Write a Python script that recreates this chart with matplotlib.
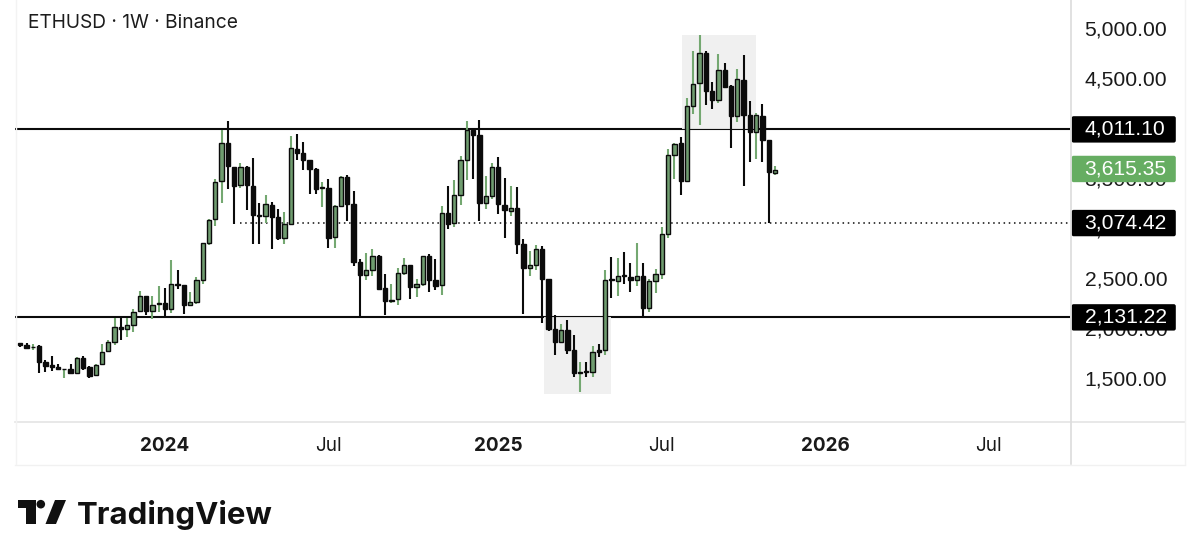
import matplotlib
matplotlib.use("Agg")
import matplotlib.pyplot as plt
from matplotlib.patches import Rectangle, FancyBboxPatch, Polygon, Circle

# ---- data (USD, weekly candles) ----
highs = [1877,1873,1867,1850,1700,1747,1660,1617,1660,1733,1740,1640,1667,1860,1900,2127,2127,2127,2217,2393,
         2347,2340,2440,2427,2707,2607,2457,2383,2533,2877,3110,3517,4007,4090,3633,3673,3640,3723,3273,3353,
         3280,3217,3180,3943,3967,3883,3707,3627,3483,3510,3257,3540,3553,3393,2710,2777,2813,2750,2560,2460,
         2627,2723,2657,2517,2747,2763,2717,3247,3440,3500,3740,4090,4003,4100,3543,3673,3737,3520,3447,3437,
         2917,2793,2850,2840,2517,2150,2067,2100,1950,1683,1683,1847,1867,2607,2733,2727,2783,2673,2877,2673,
         2517,2617,3033,3817,3877,3933,4327,4790,4957,4797,4483,4767,4673,4450,4617,4757,4290,4177,4263,3907,3643]
body_tops = [1877,1857,1837,1840,1680,1650,1633,1617,1617,1727,1727,1630,1657,1787,1887,2037,2037,2053,2187,2343,
             2343,2253,2273,2277,2460,2467,2453,2280,2500,2873,3107,3480,3873,3873,3633,3637,3637,3447,3153,3260,
             3257,3133,3067,3823,3817,3777,3700,3617,3433,3427,3240,3530,3530,3263,2687,2603,2747,2747,2427,2307,
             2573,2653,2653,2463,2740,2743,2500,3177,3177,3353,3703,4000,4000,3957,3343,3630,3633,3257,3227,3223,
             2860,2653,2813,2817,2513,2017,2000,2000,1807,1583,1597,1783,1803,2503,2513,2543,2550,2533,2543,2543,
             2493,2563,2960,3750,3867,3870,4247,4467,4770,4770,4390,4600,4600,4443,4513,4507,4150,4150,4147,3903,3607]
body_bottoms = [1850,1820,1830,1680,1647,1630,1613,1610,1577,1570,1623,1547,1553,1660,1790,1883,2010,2010,2057,2190,
                2190,2193,2263,2213,2213,2457,2253,2253,2280,2500,2877,3110,3490,3640,3447,3450,3450,3153,3143,3143,
                3133,2923,2923,3067,3773,3700,3613,3413,3423,2923,2930,3240,3263,2680,2550,2550,2607,2417,2290,2297,
                2310,2573,2433,2433,2463,2500,2447,2450,3067,3070,3357,3707,3957,3277,3277,3347,3260,3207,3197,2860,
                2623,2623,2653,2513,2013,1880,1880,1800,1570,1573,1583,1583,1787,1807,2500,2497,2540,2500,2507,2223,
                2220,2497,2567,2967,3750,3493,3497,4243,4473,4393,4303,4303,4437,4143,4143,4157,3983,3980,3903,3583,3577]
lows = [1833,1813,1800,1573,1587,1593,1600,1527,1567,1567,1607,1523,1543,1653,1780,1850,1907,1933,1983,2180,
        2150,2117,2180,2133,2173,2417,2167,2243,2267,2467,2850,3040,3273,3413,3060,3420,3207,2860,2860,3073,
        2813,2900,2860,3050,3700,3600,3360,3360,3233,2827,2827,3233,3090,2640,2127,2507,2540,2400,2150,2273,
        2250,2550,2310,2333,2440,2383,2407,2357,3010,3033,3253,3500,3517,3093,3217,3317,3160,2923,3147,2760,
        2160,2543,2607,2077,1993,1757,1877,1767,1533,1383,1533,1533,1733,1750,2323,2343,2467,2383,2440,2127,
        2183,2373,2510,2927,3510,3357,3497,4167,4057,4257,4210,4277,4427,3827,4083,3443,3683,3710,3683,3070,3557]
candle_colour = ("bbgbbbbgbg" "bbggggbggg" "bggbgbbggg" "gggbbgbbbg" "bbggbbbbgb" "ggbbbggbbg"
                 "ggbggbbgbg" "ggbbggbbgb" "bggbbbgbbg" "bgbgbgbbgb" "gggggbgggb" "bgbbgbbgbb" "g")
ticks_price = [1500, 2000, 2500, 3000, 3500, 4000, 4500, 5000]
tick_text = ["1,500.00","2,000.00","2,500.00","3,000.00","3,500.00","4,000.00","4,500.00","5,000.00"]
level_hi, level_mid, level_lo, last_price = 4011.10, 3074.42, 2131.22, 3615.35
time_pos = [23, 49, 76, 102, 128, 154]
time_text = ["2024", "Jul", "2025", "Jul", "2026", "Jul"]
time_bold = [True, False, True, False, True, False]
zone_a = (83.27, 93.93, 1360, 2131)
zone_b = (105.2, 116.98, 4011, 4958)
title = "ETHUSD · 1W · Binance"

# ---- figure ----
W, H = 1200, 560
FONT = "Inter"
PRICE_FONT = "Liberation Sans"
INK, GREEN_BODY, GREEN_WICK, GREEN_TAG = "#0b0b0b", "#6f9c6f", "#74a871", "#66ad62"
fig = plt.figure(figsize=(W/100, H/100), dpi=100, facecolor="white")
def box(l, t, r, b):
    return [l/W, 1-b/H, (r-l)/W, (b-t)/H]

ax = fig.add_axes(box(15, 0, 1070, 421))
ax.set_facecolor("white")
ax.set_xlim(-0.84, 166.9)
ax.set_ylim(1094, 5304)
for s in ax.spines.values():
    s.set_visible(False)

# levels
ax.axhline(level_hi, color=INK, lw=1.5, zorder=1)
ax.axhline(level_lo, color=INK, lw=1.5, zorder=1)
ax.plot([35, 166.9], [level_mid]*2, color=INK, lw=1.1, ls=(0, (1, 2.4)), zorder=1)

# zones
for z0, z1, y0, y1 in (zone_a, zone_b):
    ax.add_patch(Rectangle((z0, y0), z1-z0, y1-y0, fc="#efefef", ec="none", zorder=2, alpha=.92))

# candles
for i in range(len(highs)):
    black = candle_colour[i] == "b"
    ax.plot([i, i], [lows[i], highs[i]], color=INK if black else GREEN_WICK,
            lw=1.5, solid_capstyle="butt", zorder=3)
    ax.add_patch(Rectangle((i-0.34, body_bottoms[i]), 0.68, body_tops[i]-body_bottoms[i],
                           fc=INK if black else GREEN_BODY, ec=INK, lw=1.0, zorder=4))

ax.set_yticks([])
ax.set_xticks(time_pos)
ax.set_xticklabels(time_text, fontfamily=FONT, fontsize=13.6, color="#1a1a1a")
for lab, b in zip(ax.get_xticklabels(), time_bold):
    lab.set_fontweight("bold" if b else "normal")
ax.tick_params(axis="x", length=0, pad=11.5)

# price scale and tags
tag = fig.add_axes(box(1070, 0, 1185, 421), facecolor="none", zorder=5)
tag.set_xlim(0, 115)
tag.set_ylim(1094, 5304)
tag.axis("off")
for p, txt in zip(ticks_price, tick_text):
    tag.text(14.6, p+4, txt, ha="left", va="center", color="#1a1a1a", fontfamily=PRICE_FONT, fontsize=15.2, zorder=1)
for price, col, txt in ((level_hi, "#000000", "4,011.10"), (last_price, GREEN_TAG, "3,615.35"),
                        (level_mid, "#000000", "3,074.42"), (level_lo, "#000000", "2,131.22")):
    tag.add_patch(FancyBboxPatch((1.6, price-133), 104.2, 264, boxstyle="round,pad=0,rounding_size=2",
                                 mutation_aspect=10, fc=col, ec="none", clip_on=False, zorder=2))
    tag.text(14.6, price+1, txt, ha="left", va="center", color="white", fontfamily=PRICE_FONT, fontsize=15.2, zorder=3)

# page furniture in pixel space
pg = fig.add_axes([0, 0, 1, 1], facecolor="none", zorder=6)
pg.set_xlim(0, W)
pg.set_ylim(H, 0)
pg.axis("off")
pg.plot([15, 1185], [421.5, 421.5], color="#e4e4e4", lw=1.2)
pg.plot([1070.5, 1070.5], [0, 464], color="#dcdcdc", lw=1.2)
pg.plot([15, 1185], [464.5, 464.5], color="#f1f1f1", lw=1)
pg.plot([15.5, 15.5], [0, 464], color="#f3f3f3", lw=1)
pg.plot([1185, 1185], [0, 464], color="#f3f3f3", lw=1)
pg.text(28, 23.5, title, fontfamily=FONT, fontsize=13.8, color="#1c1c1c", va="center", ha="left")
pg.add_patch(Polygon([(18.3, 500), (36, 500), (36, 524), (26, 524), (26, 507.5), (18.3, 507.5)], fc="#111111", ec="none"))
pg.add_patch(Circle((40.8, 504.2), 4.3, fc="#111111", ec="none"))
pg.add_patch(Polygon([(55, 500), (66, 500), (56, 524), (45.5, 524)], fc="#111111", ec="none"))
pg.text(77, 514.5, "TradingView", fontfamily=FONT, fontsize=22.4, fontweight="bold", color="#111111", va="center", ha="left")

fig.savefig("out.png", dpi=100, facecolor="white")
